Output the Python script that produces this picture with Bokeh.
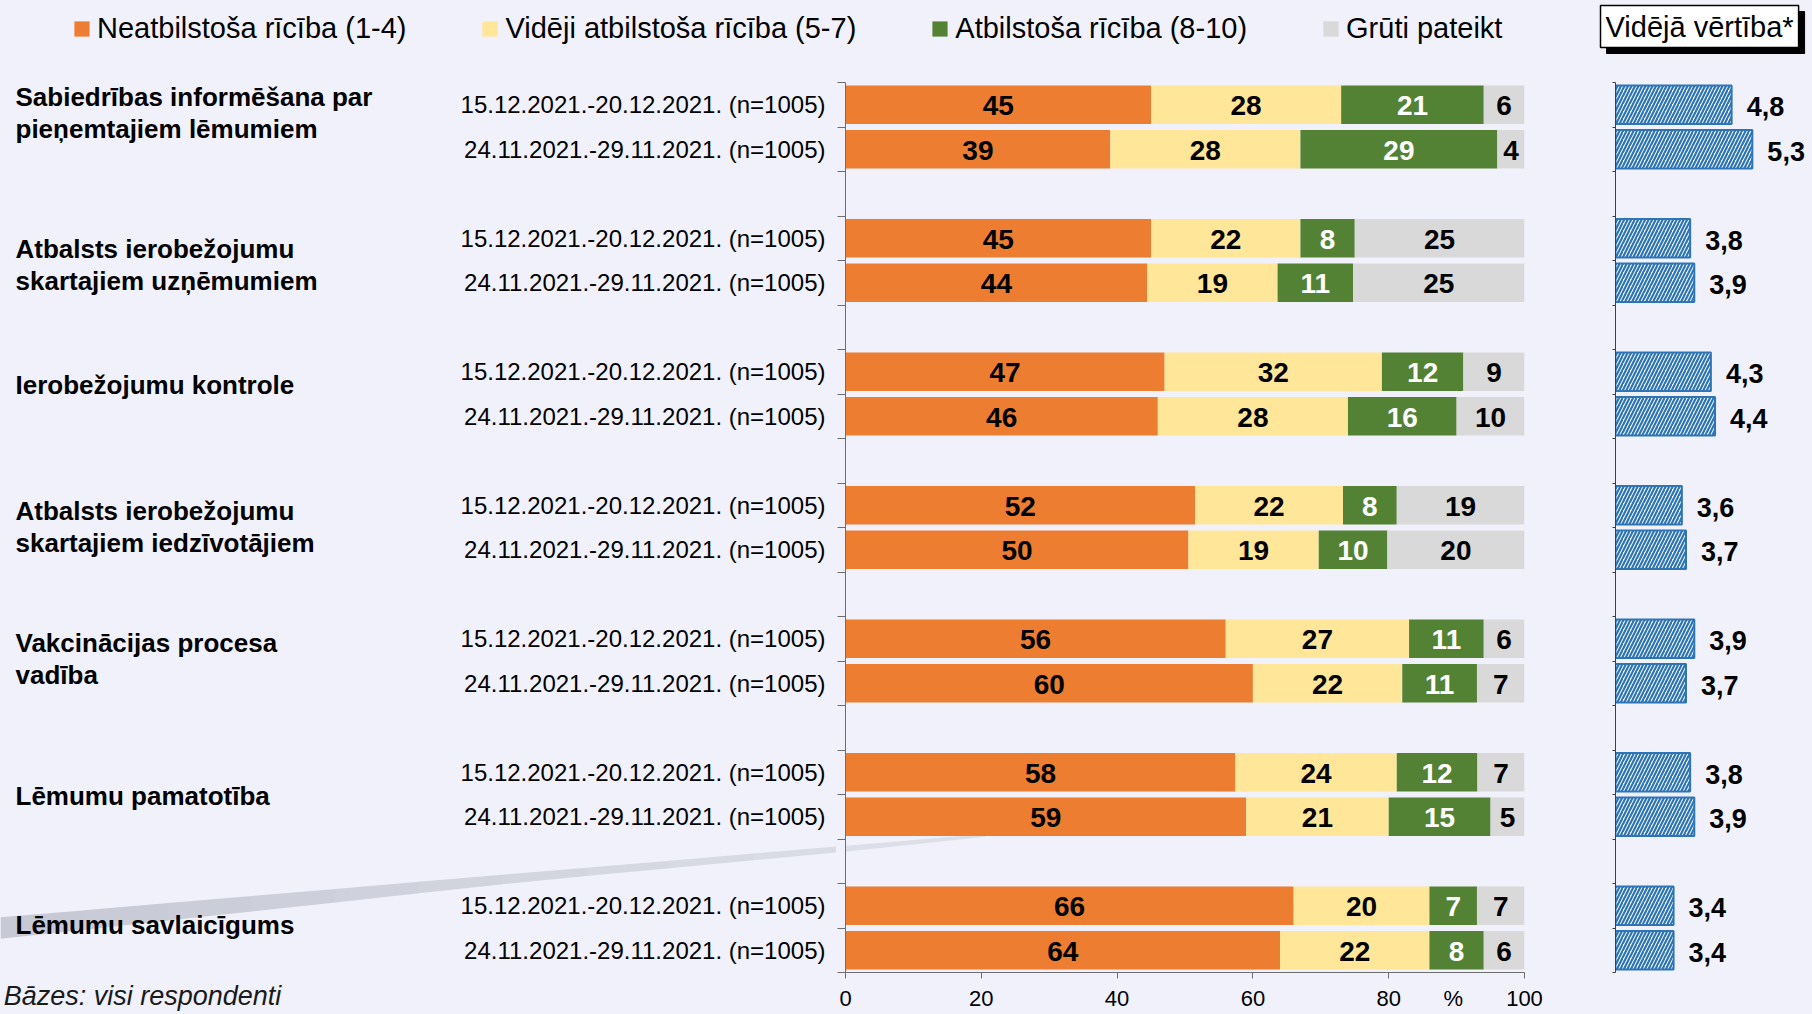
import numpy as np
from bokeh.plotting import figure
from bokeh.models import (ColumnDataSource, Range1d, FixedTicker, LabelSet, Label,
                          Legend, LegendItem, LinearAxis)
from bokeh.layouts import row, column
from bokeh.embed import file_html
from bokeh.resources import INLINE
from bokeh.core.properties import value, field

# ---------------- data ----------------
categories = [
    "Sabiedrības informēšana par\npieņemtajiem lēmumiem",
    "Atbalsts ierobežojumu\nskartajiem uzņēmumiem",
    "Ierobežojumu kontrole",
    "Atbalsts ierobežojumu\nskartajiem iedzīvotājiem",
    "Vakcinācijas procesa\nvadība",
    "Lēmumu pamatotība",
    "Lēmumu savlaicīgums",
]
periods = ["15.12.2021.-20.12.2021. (n=1005)", "24.11.2021.-29.11.2021. (n=1005)"]
series_names = ["Neatbilstoša rīcība (1-4)", "Vidēji atbilstoša rīcība (5-7)",
                "Atbilstoša rīcība (8-10)", "Grūti pateikt"]

neatbilstosa_dec = [45, 45, 47, 52, 56, 58, 66]
neatbilstosa_nov = [39, 44, 46, 50, 60, 59, 64]
videji_dec = [28, 22, 32, 22, 27, 24, 20]
videji_nov = [28, 19, 28, 19, 22, 21, 22]
atbilstosa_dec = [21, 8, 12, 8, 11, 12, 7]
atbilstosa_nov = [29, 11, 16, 10, 11, 15, 8]
gruti_dec = [6, 25, 9, 19, 6, 7, 7]
gruti_nov = [4, 25, 10, 20, 7, 5, 6]

mean_dec = [4.8, 3.8, 4.3, 3.6, 3.9, 3.8, 3.4]
mean_nov = [5.3, 3.9, 4.4, 3.7, 3.7, 3.9, 3.4]
mean_title = "Vidējā vērtība*"

x_ticks = [0, 20, 40, 60, 80, 100]
x_unit = "%"
x_unit_pos = 89.5
base_note = "Bāzes: visi respondenti"

# ---------------- style / layout ----------------
FONT = "Liberation Sans"
BG = "#F0F1FB"
series_colors = ["#ED7D31", "#FFE699", "#548235", "#D9D9D9"]
value_text_colors = ["black", "black", "white", "black"]
BLUE = "#2E75B6"
AXIS_COLOR = "#6E6E6E"
BAR_H = 0.87
PAGE_W, PAGE_H = 1812, 1014
TOP_H = 62
ROW_H = PAGE_H - TOP_H
L_W, M_W = 836, 724
R_W = PAGE_W - L_W - M_W
M_BORDER = dict(left=9, right=36, top=20, bottom=42)
R_BORDER = dict(left=55, right=0, top=20, bottom=42)
MEAN_MIN, MEAN_MAX = 2.0, 6.75
cat_line_h = 32
cat_dy = [14, -4, 9, 1, 2, -1, 3]
note_center_x = 142

# ---------------- derived table ----------------
n_cat = len(categories)
n_per = len(periods)
n_slots = n_cat * (n_per + 1) - 1

series_by_period = [
    [neatbilstosa_dec, videji_dec, atbilstosa_dec, gruti_dec],
    [neatbilstosa_nov, videji_nov, atbilstosa_nov, gruti_nov],
]
means_by_period = [mean_dec, mean_nov]

ys, rows_vals, period_txt, mean_vals = [], [], [], []
for g in range(n_cat):
    for b in range(n_per):
        ys.append(g * (n_per + 1) + b + 0.5)
        rows_vals.append([s[g] for s in series_by_period[b]])
        period_txt.append(periods[b])
        mean_vals.append(means_by_period[b][g])

vals = np.array(rows_vals, dtype=float)
share = vals / vals.sum(axis=1, keepdims=True) * 100
right = np.cumsum(share, axis=1)
left = right - share

m_frame_h = ROW_H - M_BORDER["top"] - M_BORDER["bottom"]
slot_px = m_frame_h / n_slots


def ly(page_y):
    # page pixel row -> slot units (frames of the row are aligned)
    return (page_y - TOP_H - M_BORDER["top"]) / slot_px


def bare(fig):
    fig.background_fill_color = BG
    fig.border_fill_color = BG
    fig.outline_line_color = None
    fig.grid.visible = False
    return fig


def mix(c1, c2, t):
    a = [int(c1[i:i + 2], 16) for i in (1, 3, 5)]
    b = [int(c2[i:i + 2], 16) for i in (1, 3, 5)]
    return "#" + "".join(f"{round(a[i] + (b[i] - a[i]) * t):02x}" for i in range(3))


bar_sources = [ColumnDataSource(dict(y=ys, left=left[:, k], right=right[:, k]))
               for k in range(len(series_names))]

# ---------------- top strip: legend + mean title ----------------
top = bare(figure(width=PAGE_W, height=TOP_H, x_range=Range1d(0, PAGE_W), y_range=Range1d(TOP_H, 0),
                  output_backend="svg", toolbar_location=None, x_axis_location=None,
                  y_axis_location=None, min_border=0))
proxies = []
for k in range(len(series_names)):
    proxies.append(top.hbar(y="y", left="left", right="right", height=BAR_H, source=bar_sources[k],
                            fill_color=series_colors[k], line_color=None, visible=False))
legend = Legend(items=[LegendItem(label=n, renderers=[r]) for n, r in zip(series_names, proxies)],
                orientation="horizontal", location=(72, 17), spacing=74, padding=0, margin=0,
                glyph_width=19, glyph_height=19, label_standoff=6,
                label_text_font=FONT, label_text_font_size="29px", label_text_color="black",
                border_line_color=None, background_fill_alpha=0, inactive_fill_alpha=0)
top.add_layout(legend)
top.add_layout(Label(x=1606, y=32, text=mean_title, text_font=FONT, text_font_size="29px",
                     text_color="black", text_align="left", text_baseline="middle",
                     background_fill_color="black", border_line_color="black", padding=5))
top.add_layout(Label(x=1600, y=26, text=mean_title, text_font=FONT, text_font_size="29px",
                     text_color="black", text_align="left", text_baseline="middle",
                     background_fill_color="white", border_line_color="black",
                     border_line_width=1.5, padding=5))

# ---------------- left strip: labels ----------------
L = bare(figure(width=L_W, height=ROW_H, x_range=Range1d(0, L_W), y_range=Range1d(n_slots, 0),
                output_backend="svg", toolbar_location=None, x_axis_location=None,
                y_axis_location=None, min_border=0))

# decorative grey swoosh, tapering to the right
edge_x = [0, 520, L_W]
edge_top = [916.7, 872.7, 846.0]
edge_bot = [938.3, 881.7, 852.0]
n_seg = 10
cuts = np.linspace(0, L_W, n_seg + 1)
for s in range(n_seg):
    xa, xb = cuts[s], cuts[s + 1]
    ta, tb = np.interp([xa, xb], edge_x, edge_top)
    ba, bb = np.interp([xa, xb], edge_x, edge_bot)
    col = mix("#C6C9D3", "#DADCE6", (s + 0.5) / n_seg)
    L.patch(x=[xa, xb + 0.8, xb + 0.8, xa], y=[ly(ta), ly(tb), ly(bb), ly(ba)],
            fill_color=col, line_color=None)

L.add_layout(LabelSet(x=825, y="y", text="text", source=ColumnDataSource(dict(y=ys, text=period_txt)),
                      text_font=value(FONT), text_font_size="24px",
                      text_color="black", text_align="right", text_baseline="middle"))

cl = dict(y=[], text=[], yo=[])
for g, cat in enumerate(categories):
    lines = cat.split("\n")
    for j, ln in enumerate(lines):
        cl["y"].append(g * (n_per + 1) + n_per / 2)
        cl["text"].append(ln)
        cl["yo"].append(((len(lines) - 1) / 2 - j) * cat_line_h + cat_dy[g])
L.add_layout(LabelSet(x=15, y="y", text="text", source=ColumnDataSource(cl), y_offset="yo",
                      text_font=value(FONT), text_font_size="26px", text_font_style="bold",
                      text_color="black", text_align="left", text_baseline="middle"))

note_axis = LinearAxis(ticker=FixedTicker(ticks=[note_center_x]),
                       major_label_overrides={note_center_x: base_note},
                       axis_line_color=None, major_tick_line_color=None, minor_tick_line_color=None,
                       major_tick_out=0, major_tick_in=0, minor_tick_out=0, minor_tick_in=0,
                       major_label_standoff=8, major_label_text_font=FONT,
                       major_label_text_font_size="27px", major_label_text_font_style="italic",
                       major_label_text_color="#1A1A1A")
L.add_layout(note_axis, "below")

# ---------------- main bars ----------------
p = bare(figure(width=M_W, height=ROW_H, x_range=Range1d(0, 100), y_range=Range1d(n_slots, 0),
                output_backend="svg", toolbar_location=None,
                min_border_left=M_BORDER["left"], min_border_right=M_BORDER["right"],
                min_border_top=M_BORDER["top"], min_border_bottom=M_BORDER["bottom"]))

m_left_px = L_W + M_BORDER["left"]
m_px_pct = (M_W - M_BORDER["left"] - M_BORDER["right"]) / 100.0
p.patch(x=[(v - m_left_px) / m_px_pct for v in [m_left_px, 985, 985, m_left_px]],
        y=[ly(v) for v in [845.3, 833.6, 836.3, 851.2]], fill_color="#DDDFE8", line_color=None)

for k, name in enumerate(series_names):
    p.hbar(y="y", left="left", right="right", height=BAR_H, source=bar_sources[k],
           fill_color=series_colors[k], line_color=None)

lab = dict(x=[], y=[], text=[], tcolor=[])
for i in range(len(ys)):
    for k in range(len(series_names)):
        lab["x"].append((left[i, k] + right[i, k]) / 2)
        lab["y"].append(ys[i])
        lab["text"].append(str(int(vals[i, k])))
        lab["tcolor"].append(value_text_colors[k])
p.add_layout(LabelSet(x="x", y="y", text="text", source=ColumnDataSource(lab),
                      text_color=field("tcolor"), text_font=value(FONT), text_font_size="28px",
                      text_font_style="bold", text_align="center", text_baseline="middle",
                      y_offset=-1))

major = x_ticks + [x_unit_pos]
p.xaxis.ticker = FixedTicker(ticks=major, minor_ticks=x_ticks)
p.xaxis.major_label_overrides = {**{t: str(t) for t in x_ticks}, x_unit_pos: x_unit}
p.xaxis.major_label_text_font = FONT
p.xaxis.major_label_text_font_size = "22px"
p.xaxis.major_label_text_color = "black"
p.xaxis.major_tick_line_color = None
p.xaxis.major_tick_out = 6
p.xaxis.major_tick_in = 0
p.xaxis.minor_tick_out = 6
p.xaxis.minor_tick_in = 0
p.xaxis.minor_tick_line_color = AXIS_COLOR
p.xaxis.major_label_standoff = 7
p.xaxis.axis_line_color = AXIS_COLOR

slot_ticks = list(range(n_slots + 1))
p.yaxis.ticker = FixedTicker(ticks=slot_ticks)
p.yaxis.major_label_overrides = {t: "" for t in slot_ticks}
p.yaxis.major_label_standoff = 0
p.yaxis.major_tick_out = 8
p.yaxis.major_tick_in = 0
p.yaxis.minor_tick_out = 0
p.yaxis.minor_tick_in = 0
p.yaxis.axis_line_color = AXIS_COLOR
p.yaxis.major_tick_line_color = AXIS_COLOR

# ---------------- mean value panel ----------------
pr = bare(figure(width=R_W, height=ROW_H, x_range=Range1d(MEAN_MIN, MEAN_MAX), y_range=Range1d(n_slots, 0),
                 output_backend="svg", toolbar_location=None, x_axis_location=None,
                 min_border_left=R_BORDER["left"], min_border_right=R_BORDER["right"],
                 min_border_top=R_BORDER["top"], min_border_bottom=R_BORDER["bottom"]))

src_m = ColumnDataSource(dict(y=ys, right=mean_vals,
                              text=[f"{v:.1f}".replace(".", ",") for v in mean_vals]))
pr.hbar(y="y", left=MEAN_MIN, right="right", height=BAR_H, source=src_m,
        fill_color="white", hatch_pattern="/", hatch_color=BLUE, hatch_weight=2.2, hatch_scale=7,
        line_color=BLUE, line_width=2)
pr.add_layout(LabelSet(x="right", y="y", text="text", source=src_m, x_offset=15, y_offset=-2,
                       text_font=value(FONT), text_font_size="27px", text_font_style="bold",
                       text_color="black", text_align="left", text_baseline="middle"))

pr.yaxis.ticker = FixedTicker(ticks=slot_ticks)
pr.yaxis.major_label_overrides = {t: "" for t in slot_ticks}
pr.yaxis.major_label_standoff = 0
pr.yaxis.major_tick_out = 3
pr.yaxis.major_tick_in = 0
pr.yaxis.minor_tick_out = 0
pr.yaxis.minor_tick_in = 0
pr.yaxis.axis_line_color = "#404040"
pr.yaxis.major_tick_line_color = "#404040"

bg_style = {"background-color": BG}
layout = column(top, row(L, p, pr, styles=bg_style), styles=bg_style)
open("out.html", "w").write(file_html(layout, INLINE))
